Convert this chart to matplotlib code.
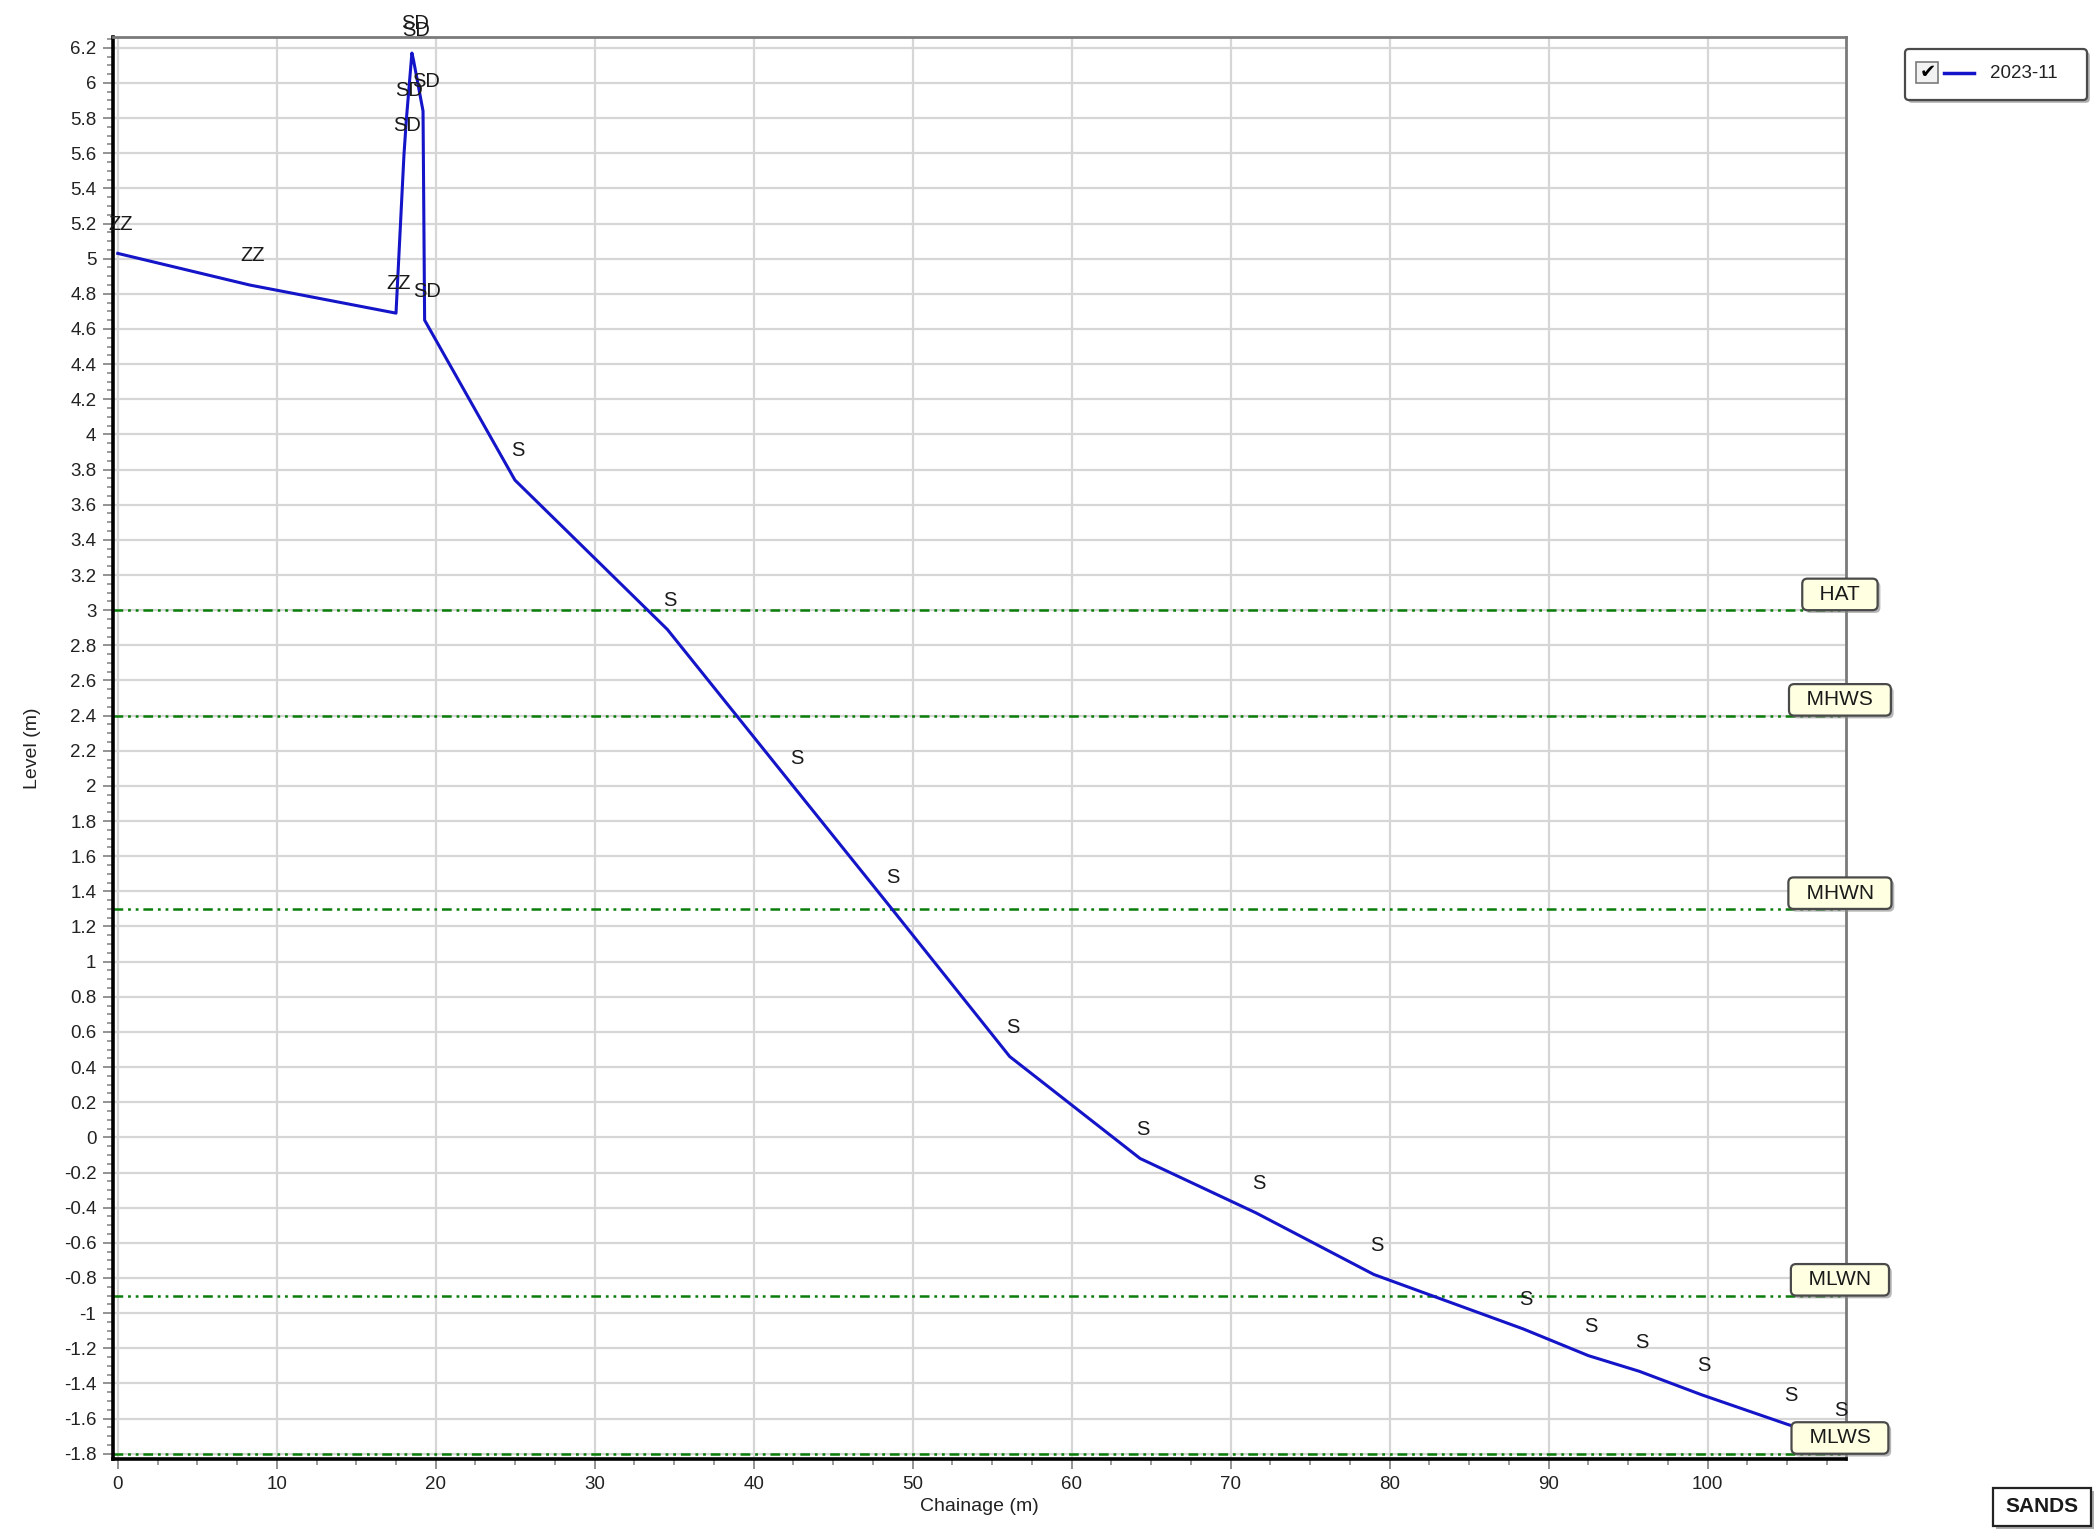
import numpy as np
import matplotlib
matplotlib.use("Agg")
import matplotlib.pyplot as plt
from matplotlib import patches, patheffects
from matplotlib.lines import Line2D
from matplotlib.ticker import MultipleLocator, FuncFormatter
from matplotlib.transforms import Affine2D, blended_transform_factory

plt.rcParams['font.family'] = ['Liberation Sans', 'DejaVu Sans']
plt.rcParams['axes.unicode_minus'] = False
plt.rcParams['lines.scale_dashes'] = False

# Profile survey 2023-11
chainage = [0.0, 8.3, 17.5, 18.0, 18.15, 18.5, 18.6, 19.2, 19.3,
            24.98, 34.57, 42.56, 48.6, 56.1, 64.3, 71.6, 79.0,
            88.4, 92.5, 95.7, 99.6, 105.05, 108.2]
level = [5.03, 4.85, 4.69, 5.59, 5.79, 6.17, 6.13, 5.84, 4.65,
         3.74, 2.89, 1.99, 1.31, 0.46, -0.12, -0.43, -0.78,
         -1.09, -1.242, -1.331, -1.464, -1.634, -1.72]
codes = ['ZZ', 'ZZ', 'ZZ', 'SD', 'SD', 'SD', 'SD', 'SD', 'SD',
         'S', 'S', 'S', 'S', 'S', 'S', 'S', 'S',
         'S', 'S', 'S', 'S', 'S', 'S']

# Tidal levels
tide_names = ['HAT', 'MHWS', 'MHWN', 'MLWN', 'MLWS']
tide_levels = [3.0, 2.4, 1.3, -0.9, -1.8]

x_ticks = [0, 10, 20, 30, 40, 50, 60, 70, 80, 90, 100]

series_name = '2023-11'
beach_type = 'SANDS'

W, H = 2098, 1530
blue = '#1414c8'
green = '#0a7d0a'

fig = plt.figure(figsize=(W/100, H/100), dpi=100)
ax = fig.add_axes([113/W, 1-1459/H, (1846-113)/W, (1459-36.7)/H])

ax.plot(chainage, level, color=blue, lw=2.2, zorder=3)
for x, y, c in zip(chainage, level, codes):
    ax.annotate(c, (x, y), xytext=(2, 21), textcoords='offset points',
                ha='center', va='center', fontsize=14.5, color='#1a1a1a', zorder=4)

tr = blended_transform_factory(ax.transAxes, ax.transData)
for name, lv in zip(tide_names, tide_levels):
    ax.axhline(lv, color=green, lw=1.8, ls=(0, (7, 3.5, 2, 3.5, 2, 3.5)), zorder=2)
    t = ax.annotate('  ' + name + '  ', (0.9965, lv), xycoords=tr,
                    xytext=(0, 4.5), textcoords='offset points',
                    ha='center', va='bottom', fontsize=15, color='#1a1a1a',
                    annotation_clip=False, zorder=6,
                    bbox=dict(boxstyle='round,pad=0.3,rounding_size=0.25',
                              fc='#ffffe2', ec='#4a4a4a', lw=1.6))
    t.get_bbox_patch().set_path_effects([
        patheffects.withSimplePatchShadow(offset=(2, -2), shadow_rgbFace='#888888', alpha=0.6)])

ax.set_xticks(x_ticks)
ax.xaxis.set_minor_locator(MultipleLocator(2.5))
ax.yaxis.set_major_locator(MultipleLocator(0.2))
ax.yaxis.set_minor_locator(MultipleLocator(0.05))
ax.set_xlim(-0.3, 108.7)
ax.set_ylim(-1.83, 6.263)

def fmt(v, pos):
    v = round(v, 2)
    if v == 0:
        v = 0.0
    return f'{v:g}'

ax.xaxis.set_major_formatter(FuncFormatter(fmt))
ax.yaxis.set_major_formatter(FuncFormatter(fmt))

ax.grid(True, which='major', color='#d6d6d6', lw=1.6, zorder=0)
ax.set_axisbelow(True)
ax.tick_params(which='major', direction='out', length=7, width=1.3, color='#8a8a8a',
               labelsize=13.5, labelcolor='#222222', pad=5)
ax.tick_params(which='minor', direction='out', length=4, width=1.2, color='#8a8a8a')

for s in ['left', 'bottom']:
    ax.spines[s].set_color('black')
    ax.spines[s].set_linewidth(2.6)
for s in ['top', 'right']:
    ax.spines[s].set_color('#7a7a7a')
    ax.spines[s].set_linewidth(2.0)

ax.set_xlabel('Chainage (m)', fontsize=14, color='#222222', labelpad=4)
ax.set_ylabel('Level (m)', fontsize=14, color='#222222', labelpad=16)

# Legend and footer drawn in reference pixel coordinates
px = Affine2D().scale(1/W, -1/H).translate(0, 1) + fig.transFigure
shadow = [patheffects.withSimplePatchShadow(offset=(2, -2), shadow_rgbFace='#777777', alpha=0.6)]

leg = patches.FancyBboxPatch((1905, 49), 182, 51, boxstyle='round,pad=0,rounding_size=4',
                             transform=px, fc='white', ec='#4a4a4a', lw=1.6)
leg.set_path_effects(shadow)
fig.add_artist(leg)
fig.add_artist(patches.Rectangle((1916, 62), 22, 21, transform=px,
                                 fc='#f2f2f2', ec='#7a7a7a', lw=1.2))
fig.text(1928/W, 1-73/H, '\u2714', family='DejaVu Sans', fontsize=14,
         ha='center', va='center', color='black')
fig.add_artist(Line2D([1944, 1974], [73, 73], transform=px, color=blue, lw=2.5))
fig.text(1990/W, 1-73/H, series_name, fontsize=13.5, ha='left', va='center', color='#222222')

sb = patches.Rectangle((1993, 1488), 98, 38, transform=px, fc='white', ec='#222222', lw=1.6)
sb.set_path_effects(shadow)
fig.add_artist(sb)
fig.text(2042/W, 1-1507/H, beach_type, fontsize=15, fontweight='bold',
         ha='center', va='center', color='#1a1a1a')

fig.savefig('out.png', dpi=100)
